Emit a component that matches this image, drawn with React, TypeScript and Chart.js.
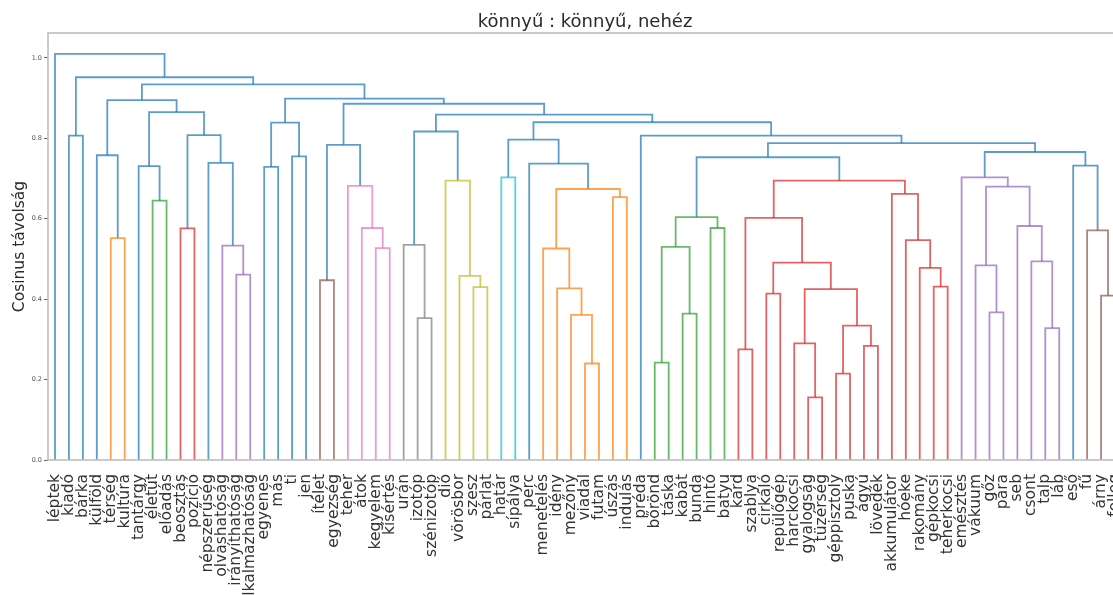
import React, { useEffect, useRef } from "react";
import { Chart, registerables } from "chart.js";

Chart.register(...registerables);

const titleText = "könnyű : könnyű, nehéz";
const yAxisLabel = "Cosinus távolság";

const leafLabels: string[] = [
  "léptek", "kiadó", "bárka", "külföld", "térség", "kultúra", "tantárgy", "életút",
  "előadás", "beosztás", "pozíció", "népszerűség", "olvashatóság", "irányíthatóság",
  "alkalmazhatóság", "egyenes", "más", "ti", "jen", "ítélet", "egyezség", "teher",
  "átok", "kegyelem", "kísértés", "urán", "izotóp", "szénizotóp", "dió", "vörösbor",
  "szesz", "párlat", "határ", "sípálya", "perc", "menetelés", "idény", "mezőny",
  "viadal", "futam", "úszás", "indulás", "préda", "bőrönd", "táska", "kabát", "bunda",
  "hintó", "batyu", "kard", "szablya", "cirkáló", "repülőgép", "harckocsi", "gyalogság",
  "tüzérség", "géppisztoly", "puska", "ágyú", "lövedék", "akkumulátor", "hóeke",
  "rakomány", "gépkocsi", "teherkocsi", "emésztés", "vákuum", "gőz", "pára", "seb",
  "csont", "talp", "láb", "eső", "fű", "árny", "felleg",
];

// merges: [left node, right node, distance, colour index]; node id of merge m = 77 + m
const merges: [number, number, number, number][] = [
  [13, 14, 0.461, 4], [12, 77, 0.533, 4], [11, 78, 0.739, 0], [9, 10, 0.576, 3],
  [80, 79, 0.808, 0], [7, 8, 0.645, 2], [6, 82, 0.731, 0], [83, 81, 0.865, 0],
  [4, 5, 0.552, 1], [3, 85, 0.758, 0], [86, 84, 0.895, 0], [15, 16, 0.729, 0],
  [17, 18, 0.755, 0], [88, 89, 0.839, 0], [19, 20, 0.447, 5], [23, 24, 0.527, 6],
  [22, 92, 0.577, 6], [21, 93, 0.682, 6], [91, 94, 0.784, 0], [26, 27, 0.353, 7],
  [25, 96, 0.535, 7], [30, 31, 0.430, 8], [29, 98, 0.458, 8], [28, 99, 0.695, 8],
  [97, 100, 0.817, 0], [32, 33, 0.703, 9], [38, 39, 0.240, 1], [37, 103, 0.361, 1],
  [36, 104, 0.427, 1], [35, 105, 0.526, 1], [40, 41, 0.654, 1], [106, 107, 0.674, 1],
  [34, 108, 0.737, 0], [102, 109, 0.797, 0], [43, 44, 0.242, 2], [45, 46, 0.364, 2],
  [111, 112, 0.530, 2], [47, 48, 0.577, 2], [113, 114, 0.604, 2], [49, 50, 0.275, 3],
  [51, 52, 0.414, 3], [54, 55, 0.156, 3], [53, 118, 0.290, 3], [56, 57, 0.215, 3],
  [58, 59, 0.284, 3], [120, 121, 0.334, 3], [119, 122, 0.425, 3], [117, 123, 0.491, 3],
  [116, 124, 0.602, 3], [63, 64, 0.431, 3], [62, 126, 0.478, 3], [61, 127, 0.547, 3],
  [60, 128, 0.662, 3], [125, 129, 0.695, 3], [115, 130, 0.753, 0], [67, 68, 0.367, 4],
  [66, 132, 0.484, 4], [71, 72, 0.328, 4], [70, 134, 0.494, 4], [69, 135, 0.582, 4],
  [133, 136, 0.680, 4], [65, 137, 0.703, 4], [75, 76, 0.409, 5], [74, 139, 0.571, 5],
  [73, 140, 0.732, 0], [138, 141, 0.766, 0], [131, 142, 0.788, 0], [42, 143, 0.807, 0],
  [110, 144, 0.840, 0], [101, 145, 0.859, 0], [95, 146, 0.886, 0], [90, 147, 0.899, 0],
  [87, 148, 0.934, 0], [1, 2, 0.807, 0], [150, 149, 0.952, 0], [0, 151, 1.010, 0],
];

const palette: string[] = [
  "rgba(31,119,180,0.72)", "rgba(255,127,14,0.72)", "rgba(44,160,44,0.72)",
  "rgba(214,39,40,0.72)", "rgba(148,103,189,0.72)", "rgba(140,86,75,0.72)",
  "rgba(227,119,194,0.72)", "rgba(127,127,127,0.72)", "rgba(188,189,34,0.72)",
  "rgba(23,190,207,0.72)",
];

const yTickValues: number[] = [0, 0.2, 0.4, 0.6, 0.8, 1.0];
const FONT = "'DejaVu Sans', sans-serif";

export default function App() {
  const ref = useRef<HTMLCanvasElement | null>(null);

  useEffect(() => {
    if (!ref.current) return;
    const nodeX: number[] = leafLabels.map((_, i) => 5 + 10 * i);
    const nodeY: number[] = leafLabels.map(() => 0);
    const datasets = merges.map(([a, b, h, c]) => {
      const xa = nodeX[a];
      const xb = nodeX[b];
      const ds = {
        data: [
          { x: xa, y: nodeY[a] },
          { x: xa, y: h },
          { x: xb, y: h },
          { x: xb, y: nodeY[b] },
        ],
        borderColor: palette[c],
        borderWidth: 1.8,
        pointRadius: 0,
        fill: false,
        tension: 0,
      };
      nodeX.push((xa + xb) / 2);
      nodeY.push(h);
      return ds;
    });

    const framePlugin = {
      id: "frame",
      afterDatasetsDraw(chart: any) {
        const { ctx, chartArea } = chart;
        ctx.save();
        ctx.strokeStyle = "#bdbdbd";
        ctx.lineWidth = 1.6;
        ctx.strokeRect(chartArea.left, chartArea.top, chartArea.right - chartArea.left, chartArea.bottom - chartArea.top);
        ctx.restore();
      },
    };
    const titlePlugin = {
      id: "topTitle",
      afterDraw(chart: any) {
        const { ctx, chartArea } = chart;
        ctx.save();
        ctx.font = `18px ${FONT}`;
        ctx.fillStyle = "#2a2a2a";
        ctx.textAlign = "center";
        ctx.textBaseline = "alphabetic";
        ctx.fillText(titleText, (chartArea.left + chartArea.right) / 2, 27);
        ctx.restore();
      },
    };

    const chart = new Chart(ref.current, {
      type: "line",
      data: { datasets: datasets as any },
      options: {
        animation: false,
        responsive: false,
        maintainAspectRatio: false,
        layout: { padding: { top: 33, left: 0, right: 2, bottom: 0 } },
        plugins: {
          legend: { display: false },
          tooltip: { enabled: false },
          title: { display: false },
        },
        elements: { point: { radius: 0 }, line: { tension: 0 } },
        scales: {
          x: {
            type: "linear",
            min: 0,
            max: leafLabels.length * 10,
            grid: { display: false },
            border: { display: false },
            afterBuildTicks: (s: any) => {
              s.ticks = leafLabels.map((_, i) => ({ value: 5 + 10 * i }));
            },
            ticks: {
              autoSkip: false,
              minRotation: 90,
              maxRotation: 90,
              padding: 6,
              color: "#333",
              font: { family: FONT, size: 15.5 },
              callback: (_v: any, i: number) => leafLabels[i],
            },
            afterFit: (s: any) => {
              s.height = 135;
              s.paddingLeft = 0;
              s.paddingRight = 0;
            },
          },
          y: {
            type: "linear",
            min: 0,
            max: 1.062,
            afterBuildTicks: (s: any) => {
              s.ticks = yTickValues.map((v) => ({ value: v }));
            },
            grid: { drawOnChartArea: false, tickLength: 4, color: "#666", tickColor: "#666" },
            border: { display: false },
            ticks: {
              padding: 2,
              color: "#555",
              font: { family: FONT, size: 6.5 },
              callback: (v: any) => Number(v).toFixed(1),
            },
            title: {
              display: true,
              text: yAxisLabel,
              color: "#2a2a2a",
              font: { family: FONT, size: 15.5 },
              padding: { top: 11, bottom: 0 },
            },
            afterFit: (s: any) => {
              s.width = 48;
              s.paddingTop = 0;
              s.paddingBottom = 0;
            },
          },
        },
      } as any,
      plugins: [framePlugin, titlePlugin],
    });
    return () => chart.destroy();
  }, []);

  return (
    <div
      style={{
        position: "fixed",
        left: 0,
        top: 0,
        width: 1113,
        height: 595,
        overflow: "hidden",
        background: "#fff",
      }}
    >
      <canvas ref={ref} width={1124} height={595} style={{ display: "block" }} />
    </div>
  );
}
